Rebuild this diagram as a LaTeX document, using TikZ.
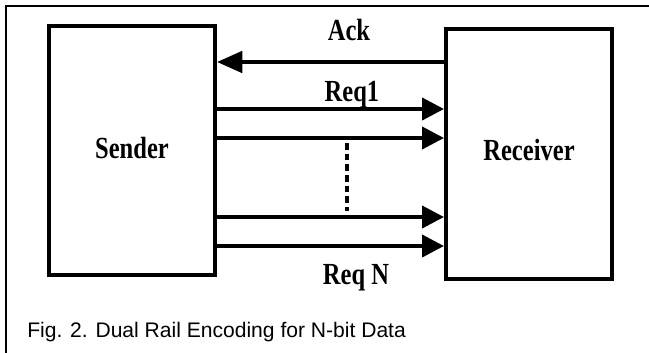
\documentclass[tikz,border=0pt]{standalone}
\usepackage{fontspec}
\setmainfont{Liberation Serif}
\newfontfamily\capfont{Liberation Sans}
\usetikzlibrary{arrows.meta}
\newcommand{\condtext}[1]{\scalebox{0.8}[1]{#1}}
\begin{document}
\begin{tikzpicture}[x=0.75pt,y=-0.75pt,
  box/.style={draw,line width=3pt,inner sep=0pt,minimum width=124.5pt,
    font=\bfseries\fontsize{23pt}{27pt}\selectfont},
  lbl/.style={inner sep=0pt,anchor=base,font=\bfseries\fontsize{23pt}{27pt}\selectfont},
  wire/.style={line width=3pt,-{Triangle[length=16.5pt,width=16.5pt]}},
  ackwire/.style={line width=3pt,-{Triangle[length=19pt,width=16pt]}},
  dotsline/.style={line width=2.6pt,dash pattern=on 5pt off 3pt},
  frame/.style={line width=1.2pt}]
\useasboundingbox (0,0) rectangle (649,353);
\coordinate (fb) at (6,353);
\coordinate (fc) at (6,6);
\coordinate (fr) at (649,6);
\draw[frame] (fb) -- (fc) -- (fr);

\node[box,minimum height=186.75pt] (S) at (132,150.5) {\raisebox{3.4pt}{\condtext{Sender}}};
\node[box,minimum height=187.5pt] (R) at (529,154) {\raisebox{6pt}{\condtext{Receiver}}};

\draw[ackwire] (R.west |- 0,62) -- (S.east |- 0,62);
\draw[wire] (S.east |- 0,109) -- (R.west |- 0,109);
\draw[wire] (S.east |- 0,138) -- (R.west |- 0,138);
\draw[wire] (S.east |- 0,217) -- (R.west |- 0,217);
\draw[wire] (S.east |- 0,246) -- (R.west |- 0,246);

\coordinate (d1) at (347,143);
\coordinate (d2) at (347,211);
\draw[dotsline] (d1) -- (d2);

\node[lbl] (ack) at (349,41) {\condtext{Ack}};
\node[lbl] (req1) at (352,101) {\condtext{Req1}};
\node[lbl] (reqn) at (356,284) {\condtext{Req N}};

\node[anchor=base west,inner sep=0pt,font=\capfont\fontsize{15.8pt}{18pt}\selectfont] (cap) at (27,337)
  {Fig. 2. Dual Rail Encoding for N-bit Data};
\end{tikzpicture}
\end{document}
